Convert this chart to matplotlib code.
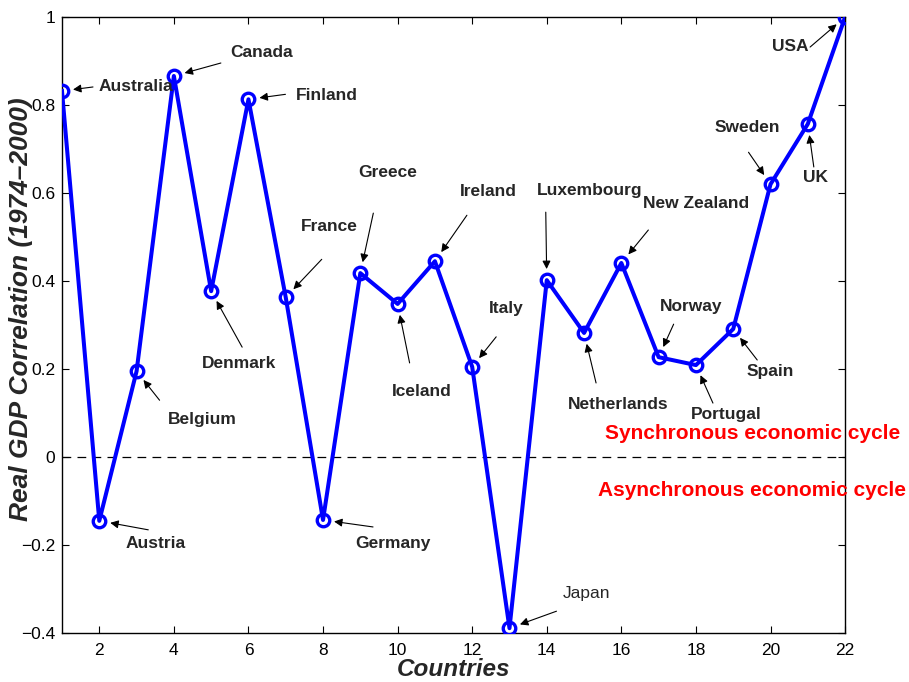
import matplotlib
matplotlib.use("Agg")
import matplotlib.pyplot as plt
from matplotlib.ticker import FixedLocator, FixedFormatter

plt.rcParams['font.family'] = ['Liberation Sans', 'DejaVu Sans']

# Real GDP correlation with the USA, 1974-2000
countries = ['Australia', 'Austria', 'Belgium', 'Canada', 'Denmark', 'Finland',
             'France', 'Germany', 'Greece', 'Iceland', 'Ireland', 'Italy',
             'Japan', 'Luxembourg', 'Netherlands', 'New Zealand', 'Norway',
             'Portugal', 'Spain', 'Sweden', 'UK', 'USA']
correlation = [0.832, -0.145, 0.195, 0.866, 0.377, 0.813, 0.363, -0.143,
               0.418, 0.348, 0.445, 0.205, -0.389, 0.402, 0.282, 0.441,
               0.227, 0.209, 0.291, 0.620, 0.757, 1.000]
index = list(range(1, len(countries) + 1))

x_ticks = [2, 4, 6, 8, 10, 12, 14, 16, 18, 20, 22]
y_ticks = [-0.4, -0.2, 0, 0.2, 0.4, 0.6, 0.8, 1]
y_tick_labels = ['\u22120.4', '\u22120.2', '0', '0.2', '0.4', '0.6', '0.8', '1']

# label placement, in pixels relative to each point (y up)
arrow_tails = [(31, 4), (49, -9), (23, -29), (47, 13), (31, -56), (37, 5),
               (36, 38), (50, -7), (13, 60), (12, -59), (32, 46), (24, 30),
               (47, 17), (-1, 68), (12, -50), (27, 33), (15, 33), (17, -38),
               (24, -31), (-22, 32), (6, -43), (-35, -30)]
text_offsets = [(74, 4), (56, -23), (66, -48), (88, 24), (28, -72), (78, 4),
                (44, 71), (70, -24), (27, 101), (24, -88), (53, 70), (34, 58),
                (77, 35), (43, 90), (34, -72), (75, 60), (32, 51), (30, -49),
                (37, -42), (-23, 57), (8, -54), (-55, -29)]

label_color = '#262626'

fig = plt.figure(figsize=(9.09, 6.82), dpi=100)
ax = fig.add_axes([0.0682, 0.0718, 0.8615, 0.9032])

ax.axhline(0, color='black', lw=0.9, linestyle=(0, (7, 5)), zorder=1)
ax.plot(index, correlation, color='#0000ff', lw=2.9, marker='o', ms=9,
        mfc='none', mec='#0000ff', mew=2.4, zorder=3)

for i, name in enumerate(countries):
    pt = (index[i], correlation[i])
    ax.annotate('', xy=pt, xytext=arrow_tails[i], textcoords='offset pixels',
                arrowprops=dict(arrowstyle='-|>', color='black', lw=0.8,
                                shrinkA=0, shrinkB=8, mutation_scale=12),
                zorder=4)
    ax.annotate(name, xy=pt, xytext=text_offsets[i], textcoords='offset pixels',
                ha='center', va='center', fontsize=12.5, color=label_color,
                fontweight='normal' if name == 'Japan' else 'bold')

ax.text(19.51, 0.054, 'Synchronous economic cycle', color='#ff0000',
        fontsize=15, fontweight='bold', ha='center', va='center', clip_on=False)
ax.text(19.51, -0.077, 'Asynchronous economic cycle', color='#ff0000',
        fontsize=15, fontweight='bold', ha='center', va='center', clip_on=False)

ax.set_xlim(1, 22)
ax.set_ylim(-0.4, 1)
ax.xaxis.set_major_locator(FixedLocator(x_ticks))
ax.yaxis.set_major_locator(FixedLocator(y_ticks))
ax.yaxis.set_major_formatter(FixedFormatter(y_tick_labels))
ax.tick_params(direction='in', length=5, width=0.8, top=True, right=True,
               labelsize=12.5)
ax.tick_params(axis='x', pad=7.5)
ax.tick_params(axis='y', pad=5)
for spine in ax.spines.values():
    spine.set_linewidth(1.0)

ax.set_xlabel('Countries', fontsize=17.5, fontweight='bold', fontstyle='italic',
              color=label_color)
ax.xaxis.set_label_coords(0.5, -0.041)
ax.set_ylabel('Real GDP Correlation (1974\u20132000)', fontsize=19,
              fontweight='bold', fontstyle='italic', color=label_color)
ax.yaxis.set_label_coords(-0.037, 0.526)

fig.savefig('out.png', dpi=100)
